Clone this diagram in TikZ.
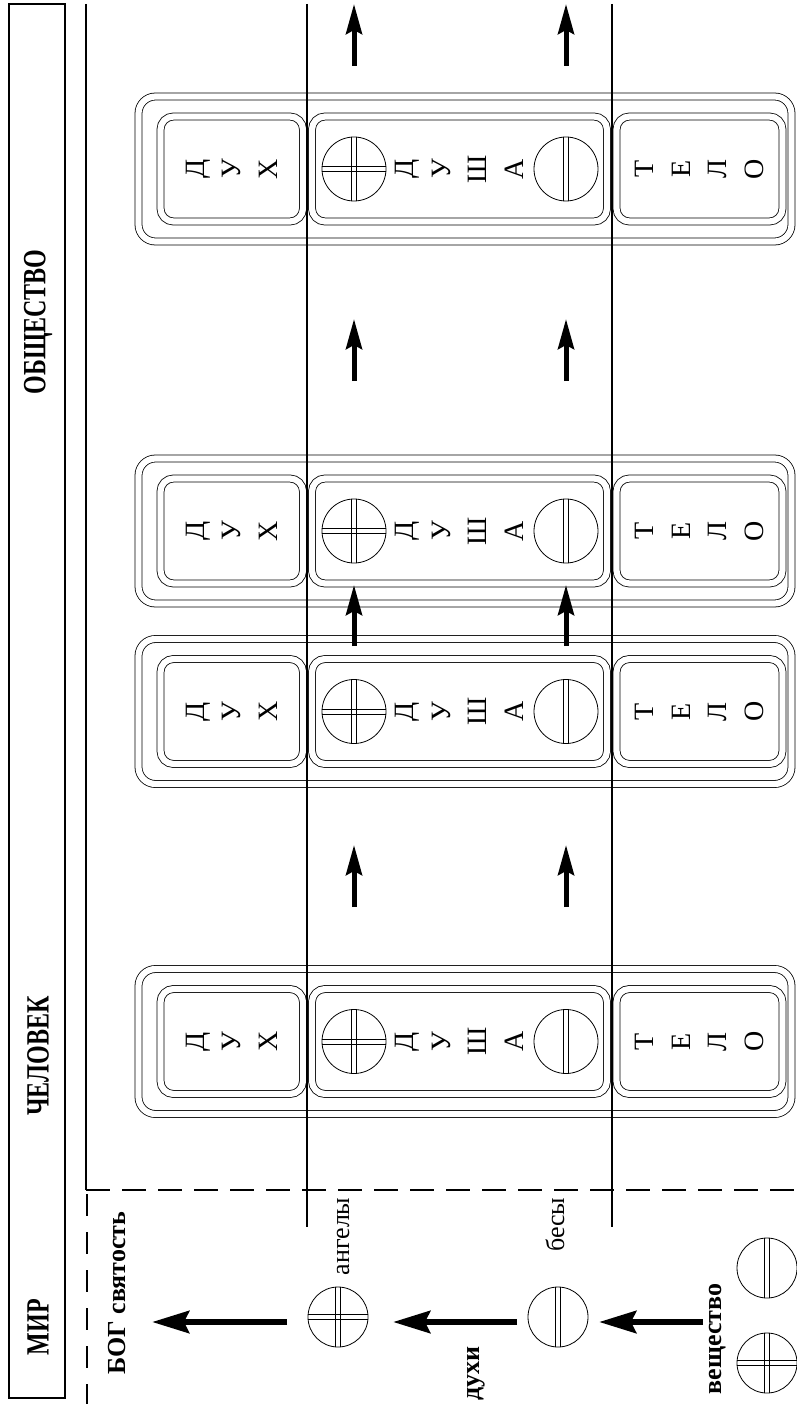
\documentclass[tikz,border=0pt]{standalone}
\usepackage{fontspec}
\setmainfont{Liberation Serif}
\usetikzlibrary{arrows.meta}

\tikzstyle{ring} = [rectangle, draw, line width=0.8pt, double=white,
double distance=6.2pt, inner sep=0pt]
\tikzstyle{grpbox} = [ring, rounded corners=17pt,
minimum width=653pt, minimum height=145pt]
\tikzstyle{cellbox} = [ring, rounded corners=13pt, rotate=90,
minimum width=105pt, align=center, font=\fontsize{28}{36.5}\selectfont]
\tikzstyle{soulmark} = [circle, draw, line width=0.8pt, minimum size=64pt, inner sep=0pt]
\tikzstyle{rowline} = [line width=1.1pt]
\tikzstyle{headtext} = [rotate=90, font=\bfseries\fontsize{24}{28}\selectfont]
\tikzstyle{sidelabel} = [rotate=90, anchor=east, font=\fontsize{26}{30}\selectfont]
\tikzstyle{boldlabel} = [rotate=90, anchor=east, font=\bfseries\fontsize{26}{30}\selectfont]
\tikzstyle{uparrow} = [-{Stealth[length=30pt, width=16pt, inset=4pt]}, line width=5pt]
\tikzstyle{leftarrow} = [-{Stealth[length=37pt, width=22pt, inset=5pt]}, line width=6.5pt]

\newcommand{\tallword}[1]{\scalebox{1}[1.35]{#1}}
\newcommand{\soulbar}[1]{%
  \foreach \s in {-2.5,2.5}
    \draw[line width=0.8pt] ([xshift=\s pt]#1.north) -- ([xshift=\s pt]#1.south);}
\newcommand{\soulcross}[1]{\soulbar{#1}%
  \foreach \s in {-2.5,2.5}
    \draw[line width=0.8pt] ([yshift=\s pt]#1.west) -- ([yshift=\s pt]#1.east);}

\begin{document}
\begin{tikzpicture}[x=1pt, y=-1pt]
    \useasboundingbox (0,0) rectangle (796,1404);

    % title bar
    \draw[rowline] (9,4) rectangle (65,1398);
    \node (mir)  [headtext] at (38,1327) {\tallword{МИР}};
    \node (chel) [headtext] at (38,1056) {\tallword{ЧЕЛОВЕК}};
    \node (obsh) [headtext] at (38,322)  {\tallword{ОБЩЕСТВО}};

    \draw[rowline] (86,4) -- (86,1190);
    \draw[rowline, dash pattern=on 24pt off 12pt] (86,1190) -- (796,1190);
    \draw[rowline, dash pattern=on 22pt off 16pt] (87,1194) -- (87,1404);

    % man and society
    \foreach \n/\y in {1/169, 2/531, 3/711.5, 4/1041.5} {
        \node (g\n)     [grpbox] at (465,\y) {};
        \node (dux\n)   [cellbox, minimum height=142.5pt] at (231.75,\y) {Д\\У\\Х};
        \node (dusha\n) [cellbox, minimum height=295pt] at (459.5,\y) {Д\\У\\Ш\\А};
        \node (telo\n)  [cellbox, minimum height=166pt] at (699.5,\y) {Т\\Е\\Л\\О};
        \node (up\n) [soulmark] at (354,\y) {};
        \node (dn\n) [soulmark] at (566,\y) {};
        \soulcross{up\n}
        \soulbar{dn\n}
    }

    \draw[rowline] (307,4) -- (307,1227);
    \draw[rowline] (612,4) -- (612,1227);

    \foreach \x/\k in {354/a, 566/b} {
        \coordinate (top\k)  at (\x,4);
        \coordinate (from\k) at (\x,66);
        \coordinate (to2\k)  at (\x,319);
        \coordinate (fr2\k)  at (\x,381);
        \coordinate (to3\k)  at (\x,585);
        \coordinate (fr3\k)  at (\x,646);
        \coordinate (to4\k)  at (\x,845);
        \coordinate (fr4\k)  at (\x,907);
        \draw[uparrow] (from\k) -- (top\k);
        \draw[uparrow] (fr2\k) -- (to2\k);
        \draw[uparrow] (fr3\k) -- (to3\k);
        \draw[uparrow] (fr4\k) -- (to4\k);
    }

    % world
    \node (angel) [soulmark, minimum size=60pt] at (338,1317) {};
    \node (demon) [soulmark, minimum size=60pt] at (558,1317) {};
    \node (matA)  [soulmark, minimum size=60pt] at (767,1268) {};
    \node (matB)  [soulmark, minimum size=60pt] at (767,1363) {};
    \soulcross{angel}
    \soulbar{demon}
    \soulbar{matA}
    \soulcross{matB}

    \node (angels)  [sidelabel] at (343,1194) {ангелы};
    \node (demons)  [sidelabel] at (555,1194) {бесы};
    \node (god)     [boldlabel] at (117,1208) {БОГ святость};
    \node (spirits) [boldlabel] at (476,1343) {духи};
    \node (matter)  [boldlabel] at (718,1280) {вещество};

    \coordinate (godtip) at (152,1322);
    \coordinate (angfrom) at (287,1322);
    \coordinate (angtip) at (393,1322);
    \coordinate (demfrom) at (517,1322);
    \coordinate (demtip) at (599,1322);
    \coordinate (matfrom) at (703,1322);
    \draw[leftarrow] (angfrom) -- (godtip);
    \draw[leftarrow] (demfrom) -- (angtip);
    \draw[leftarrow] (matfrom) -- (demtip);
\end{tikzpicture}
\end{document}
